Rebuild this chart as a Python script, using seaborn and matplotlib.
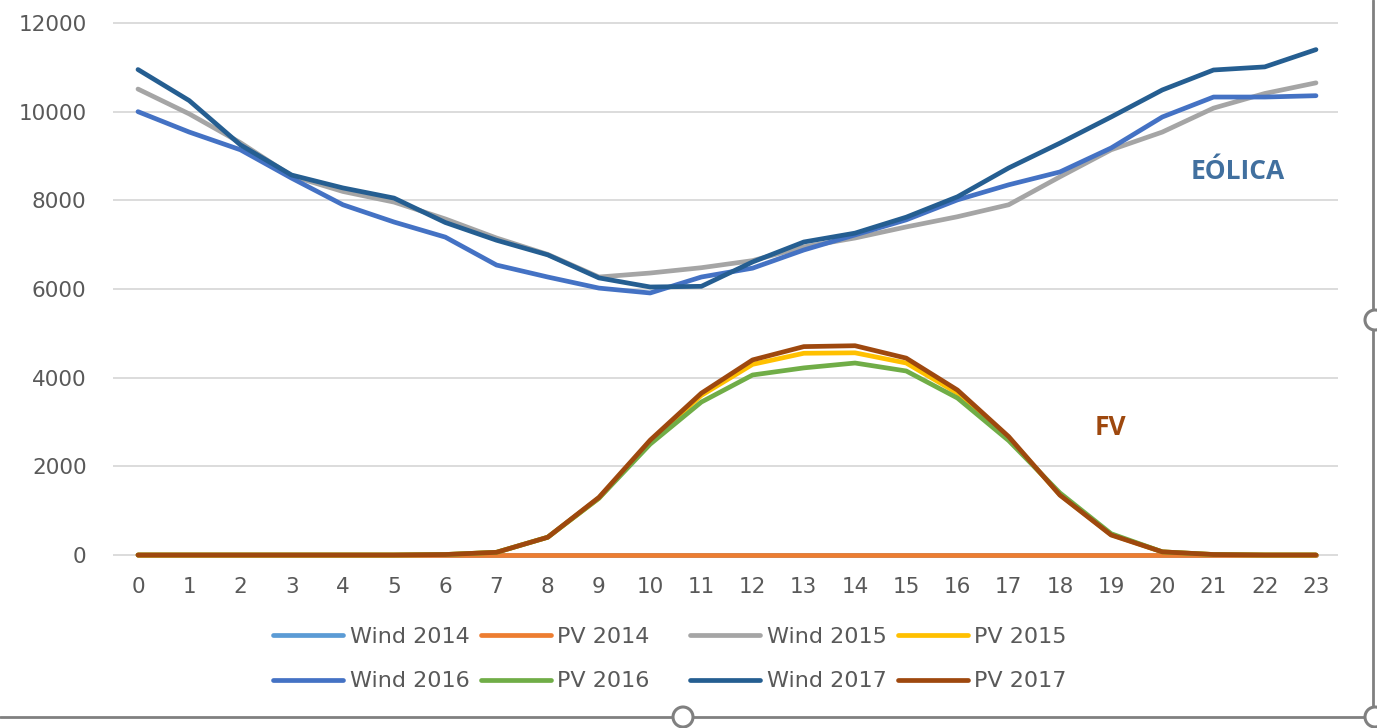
import matplotlib
matplotlib.use("Agg")
import matplotlib.pyplot as plt
from matplotlib.lines import Line2D
from matplotlib.patches import Circle
import numpy as np
import pandas as pd
import seaborn as sns

# Hourly profiles (hour of day 0..23), MW
hours = list(range(24))

wind_2014 = [0] * 24
pv_2014 = [0] * 24
wind_2015 = [10510, 9950, 9300, 8550, 8200, 7960, 7580, 7150, 6780, 6270, 6360, 6480,
             6640, 6950, 7150, 7400, 7630, 7900, 8530, 9140, 9540, 10080, 10410, 10650]
pv_2015 = [0, 0, 0, 0, 0, 0, 10, 60, 400, 1280, 2560, 3600,
           4300, 4550, 4560, 4330, 3650, 2640, 1360, 460, 70, 10, 0, 0]
wind_2016 = [10000, 9540, 9140, 8500, 7900, 7510, 7170, 6540, 6270, 6020, 5910, 6270,
             6470, 6880, 7220, 7560, 8010, 8350, 8640, 9180, 9880, 10330, 10330, 10360]
pv_2016 = [0, 0, 0, 0, 0, 0, 10, 60, 400, 1280, 2500, 3450,
           4060, 4220, 4330, 4150, 3540, 2580, 1400, 480, 70, 10, 0, 0]
wind_2017 = [10950, 10250, 9250, 8570, 8280, 8050, 7500, 7100, 6770, 6250, 6045, 6060,
             6610, 7060, 7260, 7620, 8080, 8730, 9290, 9880, 10490, 10940, 11010, 11400]
pv_2017 = [0, 0, 0, 0, 0, 0, 10, 60, 400, 1300, 2590, 3650,
           4400, 4700, 4720, 4440, 3720, 2670, 1350, 450, 70, 10, 0, 0]

series_names = ["Wind 2014", "PV 2014", "Wind 2015", "PV 2015",
                "Wind 2016", "PV 2016", "Wind 2017", "PV 2017"]
series_values = [wind_2014, pv_2014, wind_2015, pv_2015,
                 wind_2016, pv_2016, wind_2017, pv_2017]
series_colors = ["#5B9BD5", "#ED7D31", "#A5A5A5", "#FFC000",
                 "#4472C4", "#70AD47", "#255E91", "#9E480E"]
y_ticks = [0, 2000, 4000, 6000, 8000, 10000, 12000]

df = pd.concat(
    [pd.DataFrame({"hour": hours, "value": vals, "series": name})
     for name, vals in zip(series_names, series_values)],
    ignore_index=True,
)
palette = dict(zip(series_names, series_colors))

sns.set_theme(style="white")
plt.rcParams["font.family"] = ["DejaVu Sans"]

fig = plt.figure(figsize=(13.77, 7.28), dpi=100)
ax = fig.add_axes([113 / 1377, 1 - 559.4 / 728, 1225 / 1377, (559.4 - 18.57) / 728])

LW = 3.4
sns.lineplot(data=df, x="hour", y="value", hue="series", hue_order=series_names,
             palette=palette, linewidth=LW, ax=ax, legend=False, sort=False,
             solid_capstyle="round", solid_joinstyle="round")

ax.set_xlim(-0.488, 23.43)
ax.set_ylim(-100, 12100)
ax.set_xticks(hours)
ax.set_yticks(y_ticks)
ax.set_xticklabels([str(h) for h in hours])
ax.set_yticklabels([str(v) for v in y_ticks])
ax.tick_params(axis="both", length=0, labelsize=15.5, colors="#595959")
ax.tick_params(axis="y", pad=19)
ax.tick_params(axis="x", pad=13)
ax.set_xlabel("")
ax.set_ylabel("")
for s in ax.spines.values():
    s.set_visible(False)
ax.yaxis.grid(True, color="#D9D9D9", linewidth=1.3)
ax.xaxis.grid(False)
ax.set_axisbelow(True)

# Category labels
ax.text(21.48, 8640, "EÓLICA", color="#41709F", fontsize=19, fontweight="bold",
        family=["Open Sans", "DejaVu Sans"], ha="center", va="center")
ax.text(18.98, 2865, "FV", color="#9E480E", fontsize=19, fontweight="bold",
        family=["Open Sans", "DejaVu Sans"], ha="center", va="center")

# Legend in two blocks of two columns
def make_legend(names, x_px):
    handles = [Line2D([0], [0], color=palette[n], lw=LW, solid_capstyle="round") for n in names]
    leg = fig.legend(handles, names, ncol=2, loc="upper left",
                     bbox_to_anchor=(x_px / 1377, 1 - 627 / 728),
                     frameon=False, fontsize=16, handlelength=3.15, handletextpad=0.3,
                     columnspacing=0.5, labelspacing=1.1, borderpad=0, borderaxespad=0)
    for t in leg.get_texts():
        t.set_color("#595959")
    return leg

leg1 = make_legend(["Wind 2014", "Wind 2016", "PV 2014", "PV 2016"], 273)
leg2 = make_legend(["Wind 2015", "Wind 2017", "PV 2015", "PV 2017"], 690)

# Chart frame edges with resize handles
edge = "#808080"
fig.add_artist(Line2D([0, 1], [1 - 717 / 728, 1 - 717 / 728], color=edge, lw=2,
                      transform=fig.transFigure))
fig.add_artist(Line2D([1373 / 1377, 1373 / 1377], [1 - 717 / 728, 1.0], color=edge, lw=2,
                      transform=fig.transFigure))
for cx, cy in [(683, 717), (1375, 320), (1375, 717)]:
    fig.add_artist(Circle((cx, 728 - cy), 10, transform=None, facecolor="white",
                          edgecolor=edge, lw=2.2, zorder=10))

fig.savefig("out.png", dpi=100)
